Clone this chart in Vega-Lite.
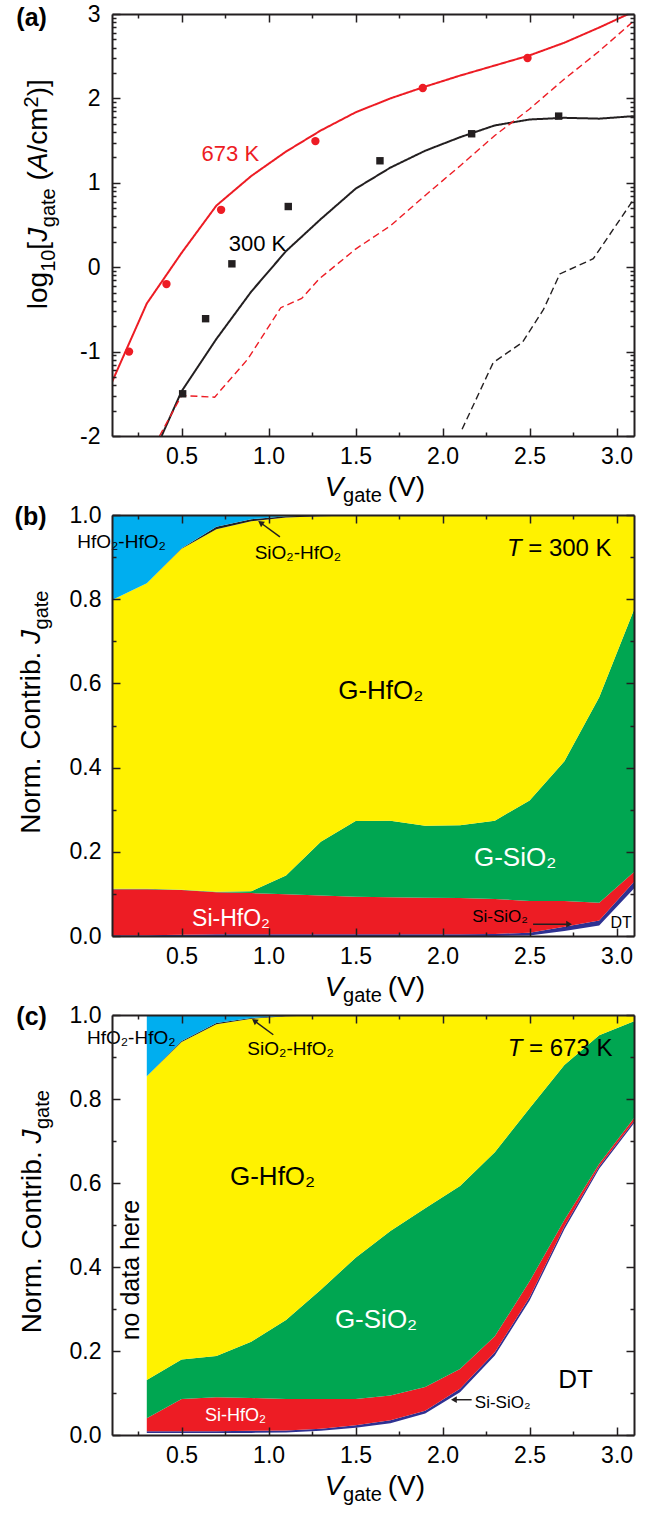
{
  "$schema": "https://vega.github.io/schema/vega-lite/v6.json",
  "background": "white",
  "padding": {"left": 14, "top": 3, "right": 5, "bottom": 5},
  "bounds": "flush",
  "spacing": 79,
  "resolve": {"scale": {"color": "independent", "x": "independent", "y": "independent"}},
  "config": {
    "view": {"stroke": null},
    "axis": {"domain": true, "domainColor": "#231F20", "domainWidth": 2, "tickColor": "#231F20", "tickWidth": 1.5, "labelFont": "Liberation Sans", "labelFontSize": 23, "labelColor": "#000000", "grid": false},
    "text": {"font": "Liberation Sans"}
  },
  "datasets": {
    "curvesA": [
      {"T":"673 K","kind":"total","V":0.1,"J":-1.36},{"T":"673 K","kind":"total","V":0.3,"J":-0.43},{"T":"673 K","kind":"total","V":0.5,"J":0.17},{"T":"673 K","kind":"total","V":0.7,"J":0.73},{"T":"673 K","kind":"total","V":0.9,"J":1.08},{"T":"673 K","kind":"total","V":1.1,"J":1.37},{"T":"673 K","kind":"total","V":1.3,"J":1.62},{"T":"673 K","kind":"total","V":1.5,"J":1.835},{"T":"673 K","kind":"total","V":1.7,"J":2.0},{"T":"673 K","kind":"total","V":1.9,"J":2.14},{"T":"673 K","kind":"total","V":2.1,"J":2.27},{"T":"673 K","kind":"total","V":2.3,"J":2.39},{"T":"673 K","kind":"total","V":2.5,"J":2.51},{"T":"673 K","kind":"total","V":2.7,"J":2.66},{"T":"673 K","kind":"total","V":2.9,"J":2.84},{"T":"673 K","kind":"total","V":3.1,"J":3.03},
      {"T":"300 K","kind":"total","V":0.385,"J":-2.0},{"T":"300 K","kind":"total","V":0.5,"J":-1.47},{"T":"300 K","kind":"total","V":0.7,"J":-0.85},{"T":"300 K","kind":"total","V":0.9,"J":-0.29},{"T":"300 K","kind":"total","V":1.1,"J":0.19},{"T":"300 K","kind":"total","V":1.3,"J":0.57},{"T":"300 K","kind":"total","V":1.5,"J":0.93},{"T":"300 K","kind":"total","V":1.7,"J":1.18},{"T":"300 K","kind":"total","V":1.9,"J":1.38},{"T":"300 K","kind":"total","V":2.1,"J":1.54},{"T":"300 K","kind":"total","V":2.3,"J":1.68},{"T":"300 K","kind":"total","V":2.5,"J":1.75},{"T":"300 K","kind":"total","V":2.7,"J":1.77},{"T":"300 K","kind":"total","V":2.9,"J":1.76},{"T":"300 K","kind":"total","V":3.1,"J":1.79},
      {"T":"673 K","kind":"DT","V":0.373,"J":-2.0},{"T":"673 K","kind":"DT","V":0.5,"J":-1.52},{"T":"673 K","kind":"DT","V":0.69,"J":-1.54},{"T":"673 K","kind":"DT","V":0.88,"J":-1.09},{"T":"673 K","kind":"DT","V":1.07,"J":-0.48},{"T":"673 K","kind":"DT","V":1.19,"J":-0.37},{"T":"673 K","kind":"DT","V":1.29,"J":-0.14},{"T":"673 K","kind":"DT","V":1.5,"J":0.215},{"T":"673 K","kind":"DT","V":1.7,"J":0.49},{"T":"673 K","kind":"DT","V":1.9,"J":0.85},{"T":"673 K","kind":"DT","V":2.1,"J":1.2},{"T":"673 K","kind":"DT","V":2.3,"J":1.56},{"T":"673 K","kind":"DT","V":2.5,"J":1.875},{"T":"673 K","kind":"DT","V":2.7,"J":2.23},{"T":"673 K","kind":"DT","V":2.9,"J":2.56},{"T":"673 K","kind":"DT","V":3.1,"J":2.92},
      {"T":"300 K","kind":"DT","V":2.112,"J":-1.92},{"T":"300 K","kind":"DT","V":2.291,"J":-1.13},{"T":"300 K","kind":"DT","V":2.459,"J":-0.89},{"T":"300 K","kind":"DT","V":2.58,"J":-0.5},{"T":"300 K","kind":"DT","V":2.674,"J":-0.08},{"T":"300 K","kind":"DT","V":2.866,"J":0.1},{"T":"300 K","kind":"DT","V":3.1,"J":0.81}
    ],
    "pointsA": [
      {"T":"673 K","V":0.198,"J":-1.0},{"T":"673 K","V":0.413,"J":-0.2},{"T":"673 K","V":0.727,"J":0.68},{"T":"673 K","V":1.269,"J":1.494},{"T":"673 K","V":1.886,"J":2.123},{"T":"673 K","V":2.488,"J":2.478},
      {"T":"300 K","V":0.506,"J":-1.5},{"T":"300 K","V":0.638,"J":-0.61},{"T":"300 K","V":0.789,"J":0.04},{"T":"300 K","V":1.113,"J":0.719},{"T":"300 K","V":1.64,"J":1.261},{"T":"300 K","V":2.167,"J":1.581},{"T":"300 K","V":2.667,"J":1.79}
    ],
    "bandsB": [
      {"V":0.1,"band":"DT","lo":0,"hi":0},{"V":0.1,"band":"Si-SiO2","lo":0,"hi":0.002},{"V":0.1,"band":"Si-HfO2","lo":0.002,"hi":0.111},{"V":0.1,"band":"G-SiO2","lo":0.111,"hi":0.112},{"V":0.1,"band":"G-HfO2","lo":0.112,"hi":0.798},{"V":0.1,"band":"SiO2-HfO2","lo":0.798,"hi":0.798},{"V":0.1,"band":"HfO2-HfO2","lo":0.798,"hi":1},
      {"V":0.3,"band":"DT","lo":0,"hi":0},{"V":0.3,"band":"Si-SiO2","lo":0,"hi":0.002},{"V":0.3,"band":"Si-HfO2","lo":0.002,"hi":0.111},{"V":0.3,"band":"G-SiO2","lo":0.111,"hi":0.112},{"V":0.3,"band":"G-HfO2","lo":0.112,"hi":0.838},{"V":0.3,"band":"SiO2-HfO2","lo":0.838,"hi":0.838},{"V":0.3,"band":"HfO2-HfO2","lo":0.838,"hi":1},
      {"V":0.5,"band":"DT","lo":0,"hi":0},{"V":0.5,"band":"Si-SiO2","lo":0,"hi":0.003},{"V":0.5,"band":"Si-HfO2","lo":0.003,"hi":0.109},{"V":0.5,"band":"G-SiO2","lo":0.109,"hi":0.11},{"V":0.5,"band":"G-HfO2","lo":0.11,"hi":0.92},{"V":0.5,"band":"SiO2-HfO2","lo":0.92,"hi":0.921},{"V":0.5,"band":"HfO2-HfO2","lo":0.921,"hi":1},
      {"V":0.7,"band":"DT","lo":0,"hi":0},{"V":0.7,"band":"Si-SiO2","lo":0,"hi":0.004},{"V":0.7,"band":"Si-HfO2","lo":0.004,"hi":0.104},{"V":0.7,"band":"G-SiO2","lo":0.104,"hi":0.105},{"V":0.7,"band":"G-HfO2","lo":0.105,"hi":0.966},{"V":0.7,"band":"SiO2-HfO2","lo":0.966,"hi":0.972},{"V":0.7,"band":"HfO2-HfO2","lo":0.972,"hi":1},
      {"V":0.9,"band":"DT","lo":0,"hi":0},{"V":0.9,"band":"Si-SiO2","lo":0,"hi":0.004},{"V":0.9,"band":"Si-HfO2","lo":0.004,"hi":0.102},{"V":0.9,"band":"G-SiO2","lo":0.102,"hi":0.106},{"V":0.9,"band":"G-HfO2","lo":0.106,"hi":0.985},{"V":0.9,"band":"SiO2-HfO2","lo":0.985,"hi":0.99},{"V":0.9,"band":"HfO2-HfO2","lo":0.99,"hi":1},
      {"V":1.1,"band":"DT","lo":0,"hi":0},{"V":1.1,"band":"Si-SiO2","lo":0,"hi":0.004},{"V":1.1,"band":"Si-HfO2","lo":0.004,"hi":0.099},{"V":1.1,"band":"G-SiO2","lo":0.099,"hi":0.144},{"V":1.1,"band":"G-HfO2","lo":0.144,"hi":0.994},{"V":1.1,"band":"SiO2-HfO2","lo":0.994,"hi":0.997},{"V":1.1,"band":"HfO2-HfO2","lo":0.997,"hi":1},
      {"V":1.3,"band":"DT","lo":0,"hi":0},{"V":1.3,"band":"Si-SiO2","lo":0,"hi":0.004},{"V":1.3,"band":"Si-HfO2","lo":0.004,"hi":0.096},{"V":1.3,"band":"G-SiO2","lo":0.096,"hi":0.224},{"V":1.3,"band":"G-HfO2","lo":0.224,"hi":0.997},{"V":1.3,"band":"SiO2-HfO2","lo":0.997,"hi":0.999},{"V":1.3,"band":"HfO2-HfO2","lo":0.999,"hi":1},
      {"V":1.5,"band":"DT","lo":0,"hi":0},{"V":1.5,"band":"Si-SiO2","lo":0,"hi":0.004},{"V":1.5,"band":"Si-HfO2","lo":0.004,"hi":0.093},{"V":1.5,"band":"G-SiO2","lo":0.093,"hi":0.273},{"V":1.5,"band":"G-HfO2","lo":0.273,"hi":0.999},{"V":1.5,"band":"SiO2-HfO2","lo":0.999,"hi":1},{"V":1.5,"band":"HfO2-HfO2","lo":1,"hi":1},
      {"V":1.7,"band":"DT","lo":0,"hi":0},{"V":1.7,"band":"Si-SiO2","lo":0,"hi":0.004},{"V":1.7,"band":"Si-HfO2","lo":0.004,"hi":0.092},{"V":1.7,"band":"G-SiO2","lo":0.092,"hi":0.274},{"V":1.7,"band":"G-HfO2","lo":0.274,"hi":1},{"V":1.7,"band":"SiO2-HfO2","lo":1,"hi":1},{"V":1.7,"band":"HfO2-HfO2","lo":1,"hi":1},
      {"V":1.9,"band":"DT","lo":0,"hi":0},{"V":1.9,"band":"Si-SiO2","lo":0,"hi":0.004},{"V":1.9,"band":"Si-HfO2","lo":0.004,"hi":0.091},{"V":1.9,"band":"G-SiO2","lo":0.091,"hi":0.262},{"V":1.9,"band":"G-HfO2","lo":0.262,"hi":1},{"V":1.9,"band":"SiO2-HfO2","lo":1,"hi":1},{"V":1.9,"band":"HfO2-HfO2","lo":1,"hi":1},
      {"V":2.1,"band":"DT","lo":0,"hi":0},{"V":2.1,"band":"Si-SiO2","lo":0,"hi":0.004},{"V":2.1,"band":"Si-HfO2","lo":0.004,"hi":0.09},{"V":2.1,"band":"G-SiO2","lo":0.09,"hi":0.263},{"V":2.1,"band":"G-HfO2","lo":0.263,"hi":1},{"V":2.1,"band":"SiO2-HfO2","lo":1,"hi":1},{"V":2.1,"band":"HfO2-HfO2","lo":1,"hi":1},
      {"V":2.3,"band":"DT","lo":0,"hi":0},{"V":2.3,"band":"Si-SiO2","lo":0,"hi":0.005},{"V":2.3,"band":"Si-HfO2","lo":0.005,"hi":0.088},{"V":2.3,"band":"G-SiO2","lo":0.088,"hi":0.274},{"V":2.3,"band":"G-HfO2","lo":0.274,"hi":1},{"V":2.3,"band":"SiO2-HfO2","lo":1,"hi":1},{"V":2.3,"band":"HfO2-HfO2","lo":1,"hi":1},
      {"V":2.5,"band":"DT","lo":0,"hi":0.001},{"V":2.5,"band":"Si-SiO2","lo":0.001,"hi":0.008},{"V":2.5,"band":"Si-HfO2","lo":0.008,"hi":0.083},{"V":2.5,"band":"G-SiO2","lo":0.083,"hi":0.322},{"V":2.5,"band":"G-HfO2","lo":0.322,"hi":1},{"V":2.5,"band":"SiO2-HfO2","lo":1,"hi":1},{"V":2.5,"band":"HfO2-HfO2","lo":1,"hi":1},
      {"V":2.7,"band":"DT","lo":0,"hi":0.012},{"V":2.7,"band":"Si-SiO2","lo":0.012,"hi":0.022},{"V":2.7,"band":"Si-HfO2","lo":0.022,"hi":0.083},{"V":2.7,"band":"G-SiO2","lo":0.083,"hi":0.415},{"V":2.7,"band":"G-HfO2","lo":0.415,"hi":1},{"V":2.7,"band":"SiO2-HfO2","lo":1,"hi":1},{"V":2.7,"band":"HfO2-HfO2","lo":1,"hi":1},
      {"V":2.9,"band":"DT","lo":0,"hi":0.025},{"V":2.9,"band":"Si-SiO2","lo":0.025,"hi":0.037},{"V":2.9,"band":"Si-HfO2","lo":0.037,"hi":0.079},{"V":2.9,"band":"G-SiO2","lo":0.079,"hi":0.567},{"V":2.9,"band":"G-HfO2","lo":0.567,"hi":1},{"V":2.9,"band":"SiO2-HfO2","lo":1,"hi":1},{"V":2.9,"band":"HfO2-HfO2","lo":1,"hi":1},
      {"V":3.1,"band":"DT","lo":0,"hi":0.113},{"V":3.1,"band":"Si-SiO2","lo":0.113,"hi":0.129},{"V":3.1,"band":"Si-HfO2","lo":0.129,"hi":0.152},{"V":3.1,"band":"G-SiO2","lo":0.152,"hi":0.775},{"V":3.1,"band":"G-HfO2","lo":0.775,"hi":1},{"V":3.1,"band":"SiO2-HfO2","lo":1,"hi":1},{"V":3.1,"band":"HfO2-HfO2","lo":1,"hi":1}
    ],
    "bandsC": [
      {"V":0.3,"band":"DT","lo":0,"hi":0.005},{"V":0.3,"band":"Si-SiO2","lo":0.005,"hi":0.009},{"V":0.3,"band":"Si-HfO2","lo":0.009,"hi":0.04},{"V":0.3,"band":"G-SiO2","lo":0.04,"hi":0.131},{"V":0.3,"band":"G-HfO2","lo":0.131,"hi":0.854},{"V":0.3,"band":"SiO2-HfO2","lo":0.854,"hi":0.854},{"V":0.3,"band":"HfO2-HfO2","lo":0.854,"hi":1},
      {"V":0.5,"band":"DT","lo":0,"hi":0.005},{"V":0.5,"band":"Si-SiO2","lo":0.005,"hi":0.009},{"V":0.5,"band":"Si-HfO2","lo":0.009,"hi":0.086},{"V":0.5,"band":"G-SiO2","lo":0.086,"hi":0.18},{"V":0.5,"band":"G-HfO2","lo":0.18,"hi":0.936},{"V":0.5,"band":"SiO2-HfO2","lo":0.936,"hi":0.938},{"V":0.5,"band":"HfO2-HfO2","lo":0.938,"hi":1},
      {"V":0.7,"band":"DT","lo":0,"hi":0.005},{"V":0.7,"band":"Si-SiO2","lo":0.005,"hi":0.009},{"V":0.7,"band":"Si-HfO2","lo":0.009,"hi":0.09},{"V":0.7,"band":"G-SiO2","lo":0.09,"hi":0.188},{"V":0.7,"band":"G-HfO2","lo":0.188,"hi":0.978},{"V":0.7,"band":"SiO2-HfO2","lo":0.978,"hi":0.981},{"V":0.7,"band":"HfO2-HfO2","lo":0.981,"hi":1},
      {"V":0.9,"band":"DT","lo":0,"hi":0.005},{"V":0.9,"band":"Si-SiO2","lo":0.005,"hi":0.01},{"V":0.9,"band":"Si-HfO2","lo":0.01,"hi":0.088},{"V":0.9,"band":"G-SiO2","lo":0.088,"hi":0.222},{"V":0.9,"band":"G-HfO2","lo":0.222,"hi":0.991},{"V":0.9,"band":"SiO2-HfO2","lo":0.991,"hi":0.993},{"V":0.9,"band":"HfO2-HfO2","lo":0.993,"hi":1},
      {"V":1.1,"band":"DT","lo":0,"hi":0.006},{"V":1.1,"band":"Si-SiO2","lo":0.006,"hi":0.011},{"V":1.1,"band":"Si-HfO2","lo":0.011,"hi":0.086},{"V":1.1,"band":"G-SiO2","lo":0.086,"hi":0.274},{"V":1.1,"band":"G-HfO2","lo":0.274,"hi":0.997},{"V":1.1,"band":"SiO2-HfO2","lo":0.997,"hi":0.998},{"V":1.1,"band":"HfO2-HfO2","lo":0.998,"hi":1},
      {"V":1.3,"band":"DT","lo":0,"hi":0.01},{"V":1.3,"band":"Si-SiO2","lo":0.01,"hi":0.015},{"V":1.3,"band":"Si-HfO2","lo":0.015,"hi":0.086},{"V":1.3,"band":"G-SiO2","lo":0.086,"hi":0.346},{"V":1.3,"band":"G-HfO2","lo":0.346,"hi":0.999},{"V":1.3,"band":"SiO2-HfO2","lo":0.999,"hi":1},{"V":1.3,"band":"HfO2-HfO2","lo":1,"hi":1},
      {"V":1.5,"band":"DT","lo":0,"hi":0.017},{"V":1.5,"band":"Si-SiO2","lo":0.017,"hi":0.023},{"V":1.5,"band":"Si-HfO2","lo":0.023,"hi":0.086},{"V":1.5,"band":"G-SiO2","lo":0.086,"hi":0.422},{"V":1.5,"band":"G-HfO2","lo":0.422,"hi":1},{"V":1.5,"band":"SiO2-HfO2","lo":1,"hi":1},{"V":1.5,"band":"HfO2-HfO2","lo":1,"hi":1},
      {"V":1.7,"band":"DT","lo":0,"hi":0.028},{"V":1.7,"band":"Si-SiO2","lo":0.028,"hi":0.035},{"V":1.7,"band":"Si-HfO2","lo":0.035,"hi":0.094},{"V":1.7,"band":"G-SiO2","lo":0.094,"hi":0.486},{"V":1.7,"band":"G-HfO2","lo":0.486,"hi":1},{"V":1.7,"band":"SiO2-HfO2","lo":1,"hi":1},{"V":1.7,"band":"HfO2-HfO2","lo":1,"hi":1},
      {"V":1.9,"band":"DT","lo":0,"hi":0.051},{"V":1.9,"band":"Si-SiO2","lo":0.051,"hi":0.058},{"V":1.9,"band":"Si-HfO2","lo":0.058,"hi":0.114},{"V":1.9,"band":"G-SiO2","lo":0.114,"hi":0.54},{"V":1.9,"band":"G-HfO2","lo":0.54,"hi":1},{"V":1.9,"band":"SiO2-HfO2","lo":1,"hi":1},{"V":1.9,"band":"HfO2-HfO2","lo":1,"hi":1},
      {"V":2.1,"band":"DT","lo":0,"hi":0.102},{"V":2.1,"band":"Si-SiO2","lo":0.102,"hi":0.11},{"V":2.1,"band":"Si-HfO2","lo":0.11,"hi":0.157},{"V":2.1,"band":"G-SiO2","lo":0.157,"hi":0.593},{"V":2.1,"band":"G-HfO2","lo":0.593,"hi":1},{"V":2.1,"band":"SiO2-HfO2","lo":1,"hi":1},{"V":2.1,"band":"HfO2-HfO2","lo":1,"hi":1},
      {"V":2.3,"band":"DT","lo":0,"hi":0.189},{"V":2.3,"band":"Si-SiO2","lo":0.189,"hi":0.197},{"V":2.3,"band":"Si-HfO2","lo":0.197,"hi":0.235},{"V":2.3,"band":"G-SiO2","lo":0.235,"hi":0.673},{"V":2.3,"band":"G-HfO2","lo":0.673,"hi":1},{"V":2.3,"band":"SiO2-HfO2","lo":1,"hi":1},{"V":2.3,"band":"HfO2-HfO2","lo":1,"hi":1},
      {"V":2.5,"band":"DT","lo":0,"hi":0.32},{"V":2.5,"band":"Si-SiO2","lo":0.32,"hi":0.328},{"V":2.5,"band":"Si-HfO2","lo":0.328,"hi":0.366},{"V":2.5,"band":"G-SiO2","lo":0.366,"hi":0.778},{"V":2.5,"band":"G-HfO2","lo":0.778,"hi":1},{"V":2.5,"band":"SiO2-HfO2","lo":1,"hi":1},{"V":2.5,"band":"HfO2-HfO2","lo":1,"hi":1},
      {"V":2.7,"band":"DT","lo":0,"hi":0.49},{"V":2.7,"band":"Si-SiO2","lo":0.49,"hi":0.497},{"V":2.7,"band":"Si-HfO2","lo":0.497,"hi":0.512},{"V":2.7,"band":"G-SiO2","lo":0.512,"hi":0.881},{"V":2.7,"band":"G-HfO2","lo":0.881,"hi":1},{"V":2.7,"band":"SiO2-HfO2","lo":1,"hi":1},{"V":2.7,"band":"HfO2-HfO2","lo":1,"hi":1},
      {"V":2.9,"band":"DT","lo":0,"hi":0.634},{"V":2.9,"band":"Si-SiO2","lo":0.634,"hi":0.639},{"V":2.9,"band":"Si-HfO2","lo":0.639,"hi":0.646},{"V":2.9,"band":"G-SiO2","lo":0.646,"hi":0.952},{"V":2.9,"band":"G-HfO2","lo":0.952,"hi":1},{"V":2.9,"band":"SiO2-HfO2","lo":1,"hi":1},{"V":2.9,"band":"HfO2-HfO2","lo":1,"hi":1},
      {"V":3.1,"band":"DT","lo":0,"hi":0.742},{"V":3.1,"band":"Si-SiO2","lo":0.742,"hi":0.747},{"V":3.1,"band":"Si-HfO2","lo":0.747,"hi":0.755},{"V":3.1,"band":"G-SiO2","lo":0.755,"hi":0.985},{"V":3.1,"band":"G-HfO2","lo":0.985,"hi":1},{"V":3.1,"band":"SiO2-HfO2","lo":1,"hi":1},{"V":3.1,"band":"HfO2-HfO2","lo":1,"hi":1}
    ]
  },
  "vconcat": [
    {
      "width": 522, "height": 422,
      "layer": [
        {
          "data": {"name": "curvesA"},
          "mark": {"type": "line", "clip": true},
          "encoding": {
            "x": {"field": "V", "type": "quantitative", "scale": {"domain": [0.1, 3.1], "nice": false, "zero": false},
              "axis": {"orient": "bottom", "title": null, "zindex": 1, "values": [0.25,0.5,0.75,1,1.25,1.5,1.75,2,2.25,2.5,2.75,3], "tickSize": {"condition": {"test": "abs(datum.value*2-round(datum.value*2))<0.01", "value": -8}, "value": -4}, "labelExpr": "abs(datum.value*2-round(datum.value*2))<0.01 ? format(datum.value,'.1f') : ''", "labelPadding": 17, "labelOverlap": false, "labelFlush": false}},
            "y": {"field": "J", "type": "quantitative", "scale": {"domain": [-2, 3], "nice": false, "zero": false},
              "axis": {"orient": "left", "title": null, "zindex": 1, "values": [-2,-1.699,-1.523,-1.398,-1.301,-1.222,-1.155,-1.097,-1.046,-1,-0.699,-0.523,-0.398,-0.301,-0.222,-0.155,-0.097,-0.046,0,0.301,0.477,0.602,0.699,0.778,0.845,0.903,0.954,1,1.301,1.477,1.602,1.699,1.778,1.845,1.903,1.954,2,2.301,2.477,2.602,2.699,2.778,2.845,2.903,2.954,3], "tickSize": {"condition": {"test": "abs(datum.value-round(datum.value))<0.001", "value": -8}, "value": -4}, "labelExpr": "abs(datum.value-round(datum.value))<0.001 ? (datum.value<0 ? '-'+format(-datum.value,'d') : format(datum.value,'d')) : ''", "labelPadding": 20, "labelOverlap": false, "labelFlush": false}},
            "color": {"field": "T", "type": "nominal", "scale": {"domain": ["673 K", "300 K"], "range": ["#ED1C24", "#231F20"]}, "legend": null},
            "strokeDash": {"field": "kind", "type": "nominal", "scale": {"domain": ["total", "DT"], "range": [[1, 0], [7, 4]]}, "legend": null},
            "strokeWidth": {"field": "kind", "type": "nominal", "scale": {"domain": ["total", "DT"], "range": [2, 1.4]}, "legend": null}
          }
        },
        {
          "data": {"name": "pointsA"},
          "mark": {"type": "point", "filled": true, "opacity": 1},
          "encoding": {
            "x": {"field": "V", "type": "quantitative", "scale": {"domain": [0.1, 3.1], "nice": false, "zero": false},
              "axis": {"orient": "top", "title": null, "zindex": 1, "labels": false, "values": [0.25,0.5,0.75,1,1.25,1.5,1.75,2,2.25,2.5,2.75,3], "tickSize": {"condition": {"test": "abs(datum.value*2-round(datum.value*2))<0.01", "value": -8}, "value": -4}}},
            "y": {"field": "J", "type": "quantitative", "scale": {"domain": [-2, 3], "nice": false, "zero": false},
              "axis": {"orient": "right", "title": null, "zindex": 1, "labels": false, "values": [-2,-1.699,-1.523,-1.398,-1.301,-1.222,-1.155,-1.097,-1.046,-1,-0.699,-0.523,-0.398,-0.301,-0.222,-0.155,-0.097,-0.046,0,0.301,0.477,0.602,0.699,0.778,0.845,0.903,0.954,1,1.301,1.477,1.602,1.699,1.778,1.845,1.903,1.954,2,2.301,2.477,2.602,2.699,2.778,2.845,2.903,2.954,3], "tickSize": {"condition": {"test": "abs(datum.value-round(datum.value))<0.001", "value": -8}, "value": -4}}},
            "color": {"field": "T", "type": "nominal", "scale": {"domain": ["673 K", "300 K"], "range": ["#ED1C24", "#231F20"]}, "legend": null},
            "shape": {"field": "T", "type": "nominal", "scale": {"domain": ["673 K", "300 K"], "range": ["circle", "square"]}, "legend": null},
            "size": {"field": "T", "type": "nominal", "scale": {"domain": ["673 K", "300 K"], "range": [70, 55]}, "legend": null}
          }
        },
        {"data": {"values": [{}]}, "mark": {"type": "text", "text": "673 K", "fontSize": 22, "color": "#ED1C24", "align": "left", "baseline": "alphabetic"}, "encoding": {"x": {"datum": 0.615, "type": "quantitative", "axis": null}, "y": {"datum": 1.261, "type": "quantitative", "axis": null}}},
        {"data": {"values": [{}]}, "mark": {"type": "text", "text": "300 K", "fontSize": 22, "color": "#000000", "align": "left", "baseline": "alphabetic"}, "encoding": {"x": {"datum": 0.771, "type": "quantitative", "axis": null}, "y": {"datum": 0.194, "type": "quantitative", "axis": null}}},
        {"data": {"values": [{}]}, "mark": {"type": "text", "text": "log", "fontSize": 28, "angle": 270, "color": "#000000", "align": "left", "baseline": "alphabetic"}, "encoding": {"x": {"datum": -0.271, "type": "quantitative", "axis": null}, "y": {"datum": -0.498, "type": "quantitative", "axis": null}}},
        {"data": {"values": [{}]}, "mark": {"type": "text", "text": "10", "fontSize": 20, "angle": 270, "color": "#000000", "align": "left", "baseline": "alphabetic"}, "encoding": {"x": {"datum": -0.228, "type": "quantitative", "axis": null}, "y": {"datum": -0.055, "type": "quantitative", "axis": null}}},
        {"data": {"values": [{}]}, "mark": {"type": "text", "text": "[", "fontSize": 28, "angle": 270, "color": "#000000", "align": "left", "baseline": "alphabetic"}, "encoding": {"x": {"datum": -0.271, "type": "quantitative", "axis": null}, "y": {"datum": 0.208, "type": "quantitative", "axis": null}}},
        {"data": {"values": [{}]}, "mark": {"type": "text", "text": "J", "fontSize": 28, "fontStyle": "italic", "angle": 270, "color": "#000000", "align": "left", "baseline": "alphabetic"}, "encoding": {"x": {"datum": -0.271, "type": "quantitative", "axis": null}, "y": {"datum": 0.3006, "type": "quantitative", "axis": null}}},
        {"data": {"values": [{}]}, "mark": {"type": "text", "text": "gate", "fontSize": 20, "angle": 270, "color": "#000000", "align": "left", "baseline": "alphabetic"}, "encoding": {"x": {"datum": -0.228, "type": "quantitative", "axis": null}, "y": {"datum": 0.4736, "type": "quantitative", "axis": null}}},
        {"data": {"values": [{}]}, "mark": {"type": "text", "text": "(", "fontSize": 28, "angle": 270, "color": "#000000", "align": "left", "baseline": "alphabetic"}, "encoding": {"x": {"datum": -0.271, "type": "quantitative", "axis": null}, "y": {"datum": 1.0269, "type": "quantitative", "axis": null}}},
        {"data": {"values": [{}]}, "mark": {"type": "text", "text": "A", "fontSize": 28, "fontStyle": "italic", "angle": 270, "color": "#000000", "align": "left", "baseline": "alphabetic"}, "encoding": {"x": {"datum": -0.271, "type": "quantitative", "axis": null}, "y": {"datum": 1.137, "type": "quantitative", "axis": null}}},
        {"data": {"values": [{}]}, "mark": {"type": "text", "text": "/cm", "fontSize": 28, "angle": 270, "color": "#000000", "align": "left", "baseline": "alphabetic"}, "encoding": {"x": {"datum": -0.271, "type": "quantitative", "axis": null}, "y": {"datum": 1.3586, "type": "quantitative", "axis": null}}},
        {"data": {"values": [{}]}, "mark": {"type": "text", "text": "2", "fontSize": 20, "angle": 270, "color": "#000000", "align": "left", "baseline": "alphabetic"}, "encoding": {"x": {"datum": -0.328, "type": "quantitative", "axis": null}, "y": {"datum": 1.893, "type": "quantitative", "axis": null}}},
        {"data": {"values": [{}]}, "mark": {"type": "text", "text": ")]", "fontSize": 28, "angle": 270, "color": "#000000", "align": "left", "baseline": "alphabetic"}, "encoding": {"x": {"datum": -0.271, "type": "quantitative", "axis": null}, "y": {"datum": 2.0245, "type": "quantitative", "axis": null}}},
        {"data": {"values": [{}]}, "mark": {"type": "text", "text": "V", "fontSize": 28, "fontStyle": "italic", "color": "#000000", "align": "left", "baseline": "alphabetic"}, "encoding": {"x": {"datum": 1.322, "type": "quantitative", "axis": null}, "y": {"datum": -2.711, "type": "quantitative", "axis": null}}},
        {"data": {"values": [{}]}, "mark": {"type": "text", "text": "gate", "fontSize": 20, "color": "#000000", "align": "left", "baseline": "alphabetic"}, "encoding": {"x": {"datum": 1.428, "type": "quantitative", "axis": null}, "y": {"datum": -2.782, "type": "quantitative", "axis": null}}},
        {"data": {"values": [{}]}, "mark": {"type": "text", "text": "(V)", "fontSize": 28, "color": "#000000", "align": "left", "baseline": "alphabetic"}, "encoding": {"x": {"datum": 1.685, "type": "quantitative", "axis": null}, "y": {"datum": -2.711, "type": "quantitative", "axis": null}}},
        {"data": {"values": [{}]}, "mark": {"type": "text", "text": "(a)", "fontSize": 25, "fontWeight": "bold", "color": "#000000", "align": "left", "baseline": "alphabetic"}, "encoding": {"x": {"datum": -0.45, "type": "quantitative", "axis": null}, "y": {"datum": 2.861, "type": "quantitative", "axis": null}}}
      ],
      "resolve": {"axis": {"x": "independent", "y": "independent"}}
    },
    {
      "width": 522, "height": 421,
      "layer": [
        {
          "data": {"name": "bandsB"},
          "mark": {"type": "area", "clip": true, "interpolate": "linear", "opacity": 1},
          "encoding": {
            "x": {"field": "V", "type": "quantitative", "scale": {"domain": [0.1, 3.1], "nice": false, "zero": false},
              "axis": {"orient": "bottom", "title": null, "zindex": 1, "values": [0.25,0.5,0.75,1,1.25,1.5,1.75,2,2.25,2.5,2.75,3], "tickSize": {"condition": {"test": "abs(datum.value*2-round(datum.value*2))<0.01", "value": -8}, "value": -4}, "labelExpr": "abs(datum.value*2-round(datum.value*2))<0.01 ? format(datum.value,'.1f') : ''", "labelPadding": 17, "labelOverlap": false, "labelFlush": false}},
            "y": {"field": "hi", "type": "quantitative", "scale": {"domain": [0, 1], "nice": false, "zero": false},
              "axis": {"orient": "left", "title": null, "zindex": 1, "values": [0,0.1,0.2,0.3,0.4,0.5,0.6,0.7,0.8,0.9,1], "tickSize": {"condition": {"test": "abs(datum.value*5-round(datum.value*5))<0.01", "value": -8}, "value": -4}, "labelExpr": "abs(datum.value*5-round(datum.value*5))<0.01 ? format(datum.value,'.1f') : ''", "labelPadding": 19, "labelOverlap": false, "labelFlush": false}},
            "y2": {"field": "lo"},
            "color": {"field": "band", "type": "nominal", "scale": {"domain": ["DT","Si-SiO2","Si-HfO2","G-SiO2","G-HfO2","SiO2-HfO2","HfO2-HfO2"], "range": ["#FFFFFF","#2E3192","#ED1C24","#00A651","#FFF200","#231F20","#00AEEF"]}, "legend": null}
          }
        },
        {
          "data": {"name": "bandsB"},
          "mark": {"type": "point", "opacity": 0},
          "encoding": {
            "x": {"field": "V", "type": "quantitative", "scale": {"domain": [0.1, 3.1], "nice": false, "zero": false},
              "axis": {"orient": "top", "title": null, "zindex": 1, "labels": false, "values": [0.25,0.5,0.75,1,1.25,1.5,1.75,2,2.25,2.5,2.75,3], "tickSize": {"condition": {"test": "abs(datum.value*2-round(datum.value*2))<0.01", "value": -8}, "value": -4}}},
            "y": {"field": "hi", "type": "quantitative", "scale": {"domain": [0, 1], "nice": false, "zero": false},
              "axis": {"orient": "right", "title": null, "zindex": 1, "labels": false, "values": [0,0.1,0.2,0.3,0.4,0.5,0.6,0.7,0.8,0.9,1], "tickSize": {"condition": {"test": "abs(datum.value*5-round(datum.value*5))<0.01", "value": -8}, "value": -4}}}
          }
        },
        {"data": {"values": [{}]}, "mark": {"type": "text", "text": "HfO₂-HfO₂", "fontSize": 19, "color": "#000000", "align": "left", "baseline": "alphabetic"}, "encoding": {"x": {"datum": -0.1, "type": "quantitative", "axis": null}, "y": {"datum": 0.9217, "type": "quantitative", "axis": null}}},
        {"data": {"values": [{}]}, "mark": {"type": "text", "text": "SiO₂-HfO₂", "fontSize": 19, "color": "#000000", "align": "left", "baseline": "alphabetic"}, "encoding": {"x": {"datum": 0.92, "type": "quantitative", "axis": null}, "y": {"datum": 0.896, "type": "quantitative", "axis": null}}},
        {"data": {"values": [{}]}, "mark": {"type": "rule", "color": "#231F20", "strokeWidth": 1.5}, "encoding": {"x": {"datum": 1.065, "type": "quantitative", "axis": null}, "y": {"datum": 0.948, "type": "quantitative", "axis": null}, "x2": {"datum": 0.954}, "y2": {"datum": 0.9816}}},
        {"data": {"values": [{}]}, "mark": {"type": "point", "shape": "triangle-up", "angle": 305, "size": 45, "filled": true, "opacity": 1, "color": "#231F20"}, "encoding": {"x": {"datum": 0.954, "type": "quantitative", "axis": null}, "y": {"datum": 0.9816, "type": "quantitative", "axis": null}}},
        {"data": {"values": [{}]}, "mark": {"type": "text", "text": "T", "fontSize": 24, "fontStyle": "italic", "color": "#000000", "align": "left", "baseline": "alphabetic"}, "encoding": {"x": {"datum": 2.37, "type": "quantitative", "axis": null}, "y": {"datum": 0.902, "type": "quantitative", "axis": null}}},
        {"data": {"values": [{}]}, "mark": {"type": "text", "text": "= 300 K", "fontSize": 24, "color": "#000000", "align": "left", "baseline": "alphabetic"}, "encoding": {"x": {"datum": 2.492, "type": "quantitative", "axis": null}, "y": {"datum": 0.902, "type": "quantitative", "axis": null}}},
        {"data": {"values": [{}]}, "mark": {"type": "text", "text": "G-HfO₂", "fontSize": 26, "color": "#000000", "align": "left", "baseline": "alphabetic"}, "encoding": {"x": {"datum": 1.4, "type": "quantitative", "axis": null}, "y": {"datum": 0.5633, "type": "quantitative", "axis": null}}},
        {"data": {"values": [{}]}, "mark": {"type": "text", "text": "G-SiO₂", "fontSize": 26, "color": "#FFFFFF", "align": "left", "baseline": "alphabetic"}, "encoding": {"x": {"datum": 2.18, "type": "quantitative", "axis": null}, "y": {"datum": 0.166, "type": "quantitative", "axis": null}}},
        {"data": {"values": [{}]}, "mark": {"type": "text", "text": "Si-HfO₂", "fontSize": 23, "color": "#FFFFFF", "align": "left", "baseline": "alphabetic"}, "encoding": {"x": {"datum": 0.56, "type": "quantitative", "axis": null}, "y": {"datum": 0.024, "type": "quantitative", "axis": null}}},
        {"data": {"values": [{}]}, "mark": {"type": "text", "text": "Si-SiO₂", "fontSize": 17, "color": "#000000", "align": "left", "baseline": "alphabetic"}, "encoding": {"x": {"datum": 2.17, "type": "quantitative", "axis": null}, "y": {"datum": 0.034, "type": "quantitative", "axis": null}}},
        {"data": {"values": [{}]}, "mark": {"type": "rule", "color": "#231F20", "strokeWidth": 1.5}, "encoding": {"x": {"datum": 2.52, "type": "quantitative", "axis": null}, "y": {"datum": 0.028, "type": "quantitative", "axis": null}, "x2": {"datum": 2.727}, "y2": {"datum": 0.028}}},
        {"data": {"values": [{}]}, "mark": {"type": "point", "shape": "triangle-right", "size": 45, "filled": true, "opacity": 1, "color": "#231F20"}, "encoding": {"x": {"datum": 2.727, "type": "quantitative", "axis": null}, "y": {"datum": 0.028, "type": "quantitative", "axis": null}}},
        {"data": {"values": [{}]}, "mark": {"type": "text", "text": "DT", "fontSize": 16, "color": "#000000", "align": "left", "baseline": "alphabetic"}, "encoding": {"x": {"datum": 2.965, "type": "quantitative", "axis": null}, "y": {"datum": 0.02, "type": "quantitative", "axis": null}}},
        {"data": {"values": [{}]}, "mark": {"type": "text", "text": "Norm. Contrib.", "fontSize": 28, "angle": 270, "color": "#000000", "align": "left", "baseline": "alphabetic"}, "encoding": {"x": {"datum": -0.311, "type": "quantitative", "axis": null}, "y": {"datum": 0.243, "type": "quantitative", "axis": null}}},
        {"data": {"values": [{}]}, "mark": {"type": "text", "text": "J", "fontSize": 28, "fontStyle": "italic", "angle": 270, "color": "#000000", "align": "left", "baseline": "alphabetic"}, "encoding": {"x": {"datum": -0.311, "type": "quantitative", "axis": null}, "y": {"datum": 0.6938, "type": "quantitative", "axis": null}}},
        {"data": {"values": [{}]}, "mark": {"type": "text", "text": "gate", "fontSize": 20, "angle": 270, "color": "#000000", "align": "left", "baseline": "alphabetic"}, "encoding": {"x": {"datum": -0.265, "type": "quantitative", "axis": null}, "y": {"datum": 0.7282, "type": "quantitative", "axis": null}}},
        {"data": {"values": [{}]}, "mark": {"type": "text", "text": "V", "fontSize": 28, "fontStyle": "italic", "color": "#000000", "align": "left", "baseline": "alphabetic"}, "encoding": {"x": {"datum": 1.322, "type": "quantitative", "axis": null}, "y": {"datum": -0.1425, "type": "quantitative", "axis": null}}},
        {"data": {"values": [{}]}, "mark": {"type": "text", "text": "gate", "fontSize": 20, "color": "#000000", "align": "left", "baseline": "alphabetic"}, "encoding": {"x": {"datum": 1.428, "type": "quantitative", "axis": null}, "y": {"datum": -0.1568, "type": "quantitative", "axis": null}}},
        {"data": {"values": [{}]}, "mark": {"type": "text", "text": "(V)", "fontSize": 28, "color": "#000000", "align": "left", "baseline": "alphabetic"}, "encoding": {"x": {"datum": 1.685, "type": "quantitative", "axis": null}, "y": {"datum": -0.1425, "type": "quantitative", "axis": null}}},
        {"data": {"values": [{}]}, "mark": {"type": "text", "text": "(b)", "fontSize": 25, "fontWeight": "bold", "color": "#000000", "align": "left", "baseline": "alphabetic"}, "encoding": {"x": {"datum": -0.46, "type": "quantitative", "axis": null}, "y": {"datum": 0.976, "type": "quantitative", "axis": null}}}
      ],
      "resolve": {"axis": {"x": "independent", "y": "independent"}}
    },
    {
      "width": 522, "height": 420,
      "layer": [
        {
          "data": {"name": "bandsC"},
          "mark": {"type": "area", "clip": true, "interpolate": "linear", "opacity": 1},
          "encoding": {
            "x": {"field": "V", "type": "quantitative", "scale": {"domain": [0.1, 3.1], "nice": false, "zero": false},
              "axis": {"orient": "bottom", "title": null, "zindex": 1, "values": [0.25,0.5,0.75,1,1.25,1.5,1.75,2,2.25,2.5,2.75,3], "tickSize": {"condition": {"test": "abs(datum.value*2-round(datum.value*2))<0.01", "value": -8}, "value": -4}, "labelExpr": "abs(datum.value*2-round(datum.value*2))<0.01 ? format(datum.value,'.1f') : ''", "labelPadding": 17, "labelOverlap": false, "labelFlush": false}},
            "y": {"field": "hi", "type": "quantitative", "scale": {"domain": [0, 1], "nice": false, "zero": false},
              "axis": {"orient": "left", "title": null, "zindex": 1, "values": [0,0.1,0.2,0.3,0.4,0.5,0.6,0.7,0.8,0.9,1], "tickSize": {"condition": {"test": "abs(datum.value*5-round(datum.value*5))<0.01", "value": -8}, "value": -4}, "labelExpr": "abs(datum.value*5-round(datum.value*5))<0.01 ? format(datum.value,'.1f') : ''", "labelPadding": 19, "labelOverlap": false, "labelFlush": false}},
            "y2": {"field": "lo"},
            "color": {"field": "band", "type": "nominal", "scale": {"domain": ["DT","Si-SiO2","Si-HfO2","G-SiO2","G-HfO2","SiO2-HfO2","HfO2-HfO2"], "range": ["#FFFFFF","#2E3192","#ED1C24","#00A651","#FFF200","#231F20","#00AEEF"]}, "legend": null}
          }
        },
        {
          "data": {"name": "bandsC"},
          "mark": {"type": "point", "opacity": 0},
          "encoding": {
            "x": {"field": "V", "type": "quantitative", "scale": {"domain": [0.1, 3.1], "nice": false, "zero": false},
              "axis": {"orient": "top", "title": null, "zindex": 1, "labels": false, "values": [0.25,0.5,0.75,1,1.25,1.5,1.75,2,2.25,2.5,2.75,3], "tickSize": {"condition": {"test": "abs(datum.value*2-round(datum.value*2))<0.01", "value": -8}, "value": -4}}},
            "y": {"field": "hi", "type": "quantitative", "scale": {"domain": [0, 1], "nice": false, "zero": false},
              "axis": {"orient": "right", "title": null, "zindex": 1, "labels": false, "values": [0,0.1,0.2,0.3,0.4,0.5,0.6,0.7,0.8,0.9,1], "tickSize": {"condition": {"test": "abs(datum.value*5-round(datum.value*5))<0.01", "value": -8}, "value": -4}}}
          }
        },
        {"data": {"values": [{}]}, "mark": {"type": "text", "text": "HfO₂-HfO₂", "fontSize": 19, "color": "#000000", "align": "left", "baseline": "alphabetic"}, "encoding": {"x": {"datum": -0.044, "type": "quantitative", "axis": null}, "y": {"datum": 0.932, "type": "quantitative", "axis": null}}},
        {"data": {"values": [{}]}, "mark": {"type": "text", "text": "SiO₂-HfO₂", "fontSize": 19, "color": "#000000", "align": "left", "baseline": "alphabetic"}, "encoding": {"x": {"datum": 0.878, "type": "quantitative", "axis": null}, "y": {"datum": 0.904, "type": "quantitative", "axis": null}}},
        {"data": {"values": [{}]}, "mark": {"type": "rule", "color": "#231F20", "strokeWidth": 1.5}, "encoding": {"x": {"datum": 1.027, "type": "quantitative", "axis": null}, "y": {"datum": 0.953, "type": "quantitative", "axis": null}, "x2": {"datum": 0.9185}, "y2": {"datum": 0.9863}}},
        {"data": {"values": [{}]}, "mark": {"type": "point", "shape": "triangle-up", "angle": 306, "size": 45, "filled": true, "opacity": 1, "color": "#231F20"}, "encoding": {"x": {"datum": 0.9185, "type": "quantitative", "axis": null}, "y": {"datum": 0.9863, "type": "quantitative", "axis": null}}},
        {"data": {"values": [{}]}, "mark": {"type": "text", "text": "T", "fontSize": 24, "fontStyle": "italic", "color": "#000000", "align": "left", "baseline": "alphabetic"}, "encoding": {"x": {"datum": 2.375, "type": "quantitative", "axis": null}, "y": {"datum": 0.903, "type": "quantitative", "axis": null}}},
        {"data": {"values": [{}]}, "mark": {"type": "text", "text": "= 673 K", "fontSize": 24, "color": "#000000", "align": "left", "baseline": "alphabetic"}, "encoding": {"x": {"datum": 2.497, "type": "quantitative", "axis": null}, "y": {"datum": 0.903, "type": "quantitative", "axis": null}}},
        {"data": {"values": [{}]}, "mark": {"type": "text", "text": "G-HfO₂", "fontSize": 26, "color": "#000000", "align": "left", "baseline": "alphabetic"}, "encoding": {"x": {"datum": 0.778, "type": "quantitative", "axis": null}, "y": {"datum": 0.595, "type": "quantitative", "axis": null}}},
        {"data": {"values": [{}]}, "mark": {"type": "text", "text": "G-SiO₂", "fontSize": 26, "color": "#FFFFFF", "align": "left", "baseline": "alphabetic"}, "encoding": {"x": {"datum": 1.381, "type": "quantitative", "axis": null}, "y": {"datum": 0.2536, "type": "quantitative", "axis": null}}},
        {"data": {"values": [{}]}, "mark": {"type": "text", "text": "Si-HfO₂", "fontSize": 18, "color": "#FFFFFF", "align": "left", "baseline": "alphabetic"}, "encoding": {"x": {"datum": 0.634, "type": "quantitative", "axis": null}, "y": {"datum": 0.033, "type": "quantitative", "axis": null}}},
        {"data": {"values": [{}]}, "mark": {"type": "text", "text": "Si-SiO₂", "fontSize": 17, "color": "#000000", "align": "left", "baseline": "alphabetic"}, "encoding": {"x": {"datum": 2.185, "type": "quantitative", "axis": null}, "y": {"datum": 0.065, "type": "quantitative", "axis": null}}},
        {"data": {"values": [{}]}, "mark": {"type": "rule", "color": "#231F20", "strokeWidth": 1.5}, "encoding": {"x": {"datum": 2.167, "type": "quantitative", "axis": null}, "y": {"datum": 0.084, "type": "quantitative", "axis": null}, "x2": {"datum": 2.065}, "y2": {"datum": 0.084}}},
        {"data": {"values": [{}]}, "mark": {"type": "point", "shape": "triangle-left", "size": 45, "filled": true, "opacity": 1, "color": "#231F20"}, "encoding": {"x": {"datum": 2.065, "type": "quantitative", "axis": null}, "y": {"datum": 0.084, "type": "quantitative", "axis": null}}},
        {"data": {"values": [{}]}, "mark": {"type": "text", "text": "DT", "fontSize": 26, "color": "#000000", "align": "left", "baseline": "alphabetic"}, "encoding": {"x": {"datum": 2.664, "type": "quantitative", "axis": null}, "y": {"datum": 0.113, "type": "quantitative", "axis": null}}},
        {"data": {"values": [{}]}, "mark": {"type": "text", "text": "no data here", "fontSize": 25, "angle": 270, "color": "#000000", "align": "left", "baseline": "alphabetic"}, "encoding": {"x": {"datum": 0.256, "type": "quantitative", "axis": null}, "y": {"datum": 0.2255, "type": "quantitative", "axis": null}}},
        {"data": {"values": [{}]}, "mark": {"type": "text", "text": "Norm. Contrib.", "fontSize": 28, "angle": 270, "color": "#000000", "align": "left", "baseline": "alphabetic"}, "encoding": {"x": {"datum": -0.31, "type": "quantitative", "axis": null}, "y": {"datum": 0.242, "type": "quantitative", "axis": null}}},
        {"data": {"values": [{}]}, "mark": {"type": "text", "text": "J", "fontSize": 28, "fontStyle": "italic", "angle": 270, "color": "#000000", "align": "left", "baseline": "alphabetic"}, "encoding": {"x": {"datum": -0.31, "type": "quantitative", "axis": null}, "y": {"datum": 0.6939, "type": "quantitative", "axis": null}}},
        {"data": {"values": [{}]}, "mark": {"type": "text", "text": "gate", "fontSize": 20, "angle": 270, "color": "#000000", "align": "left", "baseline": "alphabetic"}, "encoding": {"x": {"datum": -0.264, "type": "quantitative", "axis": null}, "y": {"datum": 0.7284, "type": "quantitative", "axis": null}}},
        {"data": {"values": [{}]}, "mark": {"type": "text", "text": "V", "fontSize": 28, "fontStyle": "italic", "color": "#000000", "align": "left", "baseline": "alphabetic"}, "encoding": {"x": {"datum": 1.322, "type": "quantitative", "axis": null}, "y": {"datum": -0.1429, "type": "quantitative", "axis": null}}},
        {"data": {"values": [{}]}, "mark": {"type": "text", "text": "gate", "fontSize": 20, "color": "#000000", "align": "left", "baseline": "alphabetic"}, "encoding": {"x": {"datum": 1.428, "type": "quantitative", "axis": null}, "y": {"datum": -0.157, "type": "quantitative", "axis": null}}},
        {"data": {"values": [{}]}, "mark": {"type": "text", "text": "(V)", "fontSize": 28, "color": "#000000", "align": "left", "baseline": "alphabetic"}, "encoding": {"x": {"datum": 1.685, "type": "quantitative", "axis": null}, "y": {"datum": -0.1429, "type": "quantitative", "axis": null}}},
        {"data": {"values": [{}]}, "mark": {"type": "text", "text": "(c)", "fontSize": 25, "fontWeight": "bold", "color": "#000000", "align": "left", "baseline": "alphabetic"}, "encoding": {"x": {"datum": -0.45, "type": "quantitative", "axis": null}, "y": {"datum": 0.976, "type": "quantitative", "axis": null}}}
      ],
      "resolve": {"axis": {"x": "independent", "y": "independent"}}
    }
  ]
}
